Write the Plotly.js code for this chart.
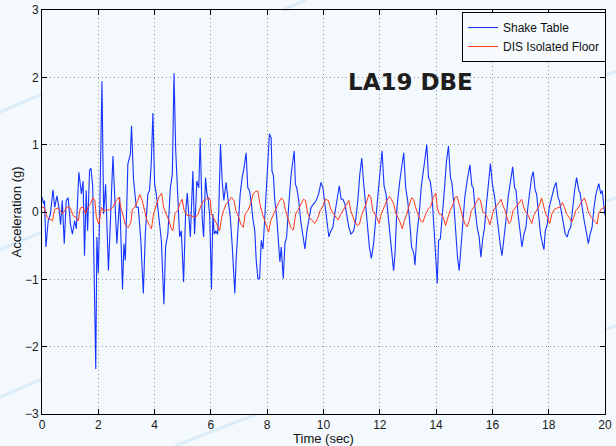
<!DOCTYPE html>
<html>
<head>
<meta charset="utf-8">
<script src="https://cdn.plot.ly/plotly-3.0.1.min.js"></script>
<style>html,body{margin:0;padding:0;background:#f4f9fd;}#chart{width:616px;height:446px;}</style>
</head>
<body>
<div id="chart"></div>
<script>
// Shake Table acceleration: [time (s), acceleration (g)]
const shakeTable = [[0,0.22],[0.06,0.12],[0.09,0.17],[0.14,-0.52],[0.22,-0.13],[0.30,-0.03],[0.39,0.33],[0.45,0.07],[0.53,0.24],[0.60,0.07],[0.66,-0.19],[0.72,0.17],[0.79,-0.47],[0.86,0.17],[0.93,0.21],[1.01,-0.18],[1.08,-0.33],[1.16,-0.13],[1.22,-0.25],[1.31,0.59],[1.40,0.27],[1.46,0.46],[1.51,-0.65],[1.57,0.32],[1.62,-0.28],[1.69,0.62],[1.74,0.65],[1.80,0.39],[1.91,-2.33],[1.95,-0.37],[2.00,-0.91],[2.05,-0.03],[2.13,1.94],[2.19,-0.03],[2.26,0.41],[2.36,-0.87],[2.44,-0.03],[2.52,0.83],[2.60,0.07],[2.66,-0.47],[2.76,0.22],[2.86,-1.15],[2.91,-0.47],[2.96,-0.72],[3.05,0.71],[3.14,0.86],[3.18,1.28],[3.25,0.49],[3.35,0.07],[3.42,0.07],[3.51,-0.42],[3.60,-1.21],[3.67,-0.33],[3.76,0.27],[3.82,0.32],[3.88,0.71],[3.94,1.47],[4.00,0.41],[4.06,0.27],[4.13,-0.03],[4.24,-0.42],[4.33,-1.37],[4.39,-0.52],[4.47,-0.33],[4.56,0.36],[4.63,0.56],[4.69,2.06],[4.75,0.91],[4.82,0.36],[4.89,-0.37],[4.95,-0.28],[5.03,-1.04],[5.10,-0.03],[5.16,0.28],[5.27,-0.37],[5.36,0.61],[5.42,-0.33],[5.50,0.46],[5.57,0.36],[5.62,1.10],[5.69,-0.08],[5.74,-0.37],[5.81,0.51],[5.86,0.27],[5.91,0.17],[5.96,-0.08],[6.02,-1.15],[6.07,-0.03],[6.12,-0.33],[6.17,-0.28],[6.24,-0.33],[6.28,0.02],[6.34,1.01],[6.40,0.46],[6.46,0.17],[6.54,0.44],[6.60,0.22],[6.69,-0.08],[6.76,-0.52],[6.85,-1.21],[6.90,-0.67],[6.96,-0.23],[7.04,0.27],[7.11,0.51],[7.18,0.66],[7.25,0.88],[7.31,0.36],[7.37,0.32],[7.44,0.12],[7.49,-0.10],[7.56,-0.28],[7.61,-0.72],[7.67,-0.99],[7.73,-0.99],[7.79,-0.42],[7.85,-0.55],[7.92,-0.03],[8.00,0.51],[8.08,1.16],[8.14,1.10],[8.17,0.61],[8.22,0.54],[8.27,0.17],[8.34,-0.08],[8.41,-0.52],[8.45,-0.74],[8.50,-0.52],[8.57,-0.99],[8.63,-0.47],[8.69,-0.37],[8.76,0.07],[8.85,0.56],[8.96,0.91],[9.00,0.41],[9.05,0.36],[9.12,0.17],[9.19,-0.13],[9.27,-0.33],[9.34,-0.55],[9.41,-0.28],[9.48,-0.13],[9.56,0.07],[9.65,0.12],[9.74,0.17],[9.83,0.27],[9.91,0.44],[9.98,0.36],[10.05,0.12],[10.12,-0.13],[10.19,-0.37],[10.26,-0.28],[10.33,-0.23],[10.40,-0.03],[10.48,0.17],[10.56,0.39],[10.63,0.19],[10.69,0.19],[10.76,0.12],[10.83,-0.03],[10.90,-0.23],[10.98,-0.33],[11.07,-0.28],[11.14,-0.13],[11.22,0.17],[11.29,0.56],[11.36,0.80],[11.42,0.46],[11.49,0.17],[11.56,-0.23],[11.63,-0.52],[11.70,-0.69],[11.78,-0.47],[11.85,-0.13],[11.92,0.17],[11.99,0.46],[12.08,0.91],[12.15,0.39],[12.22,0.27],[12.29,-0.03],[12.36,-0.33],[12.44,-0.67],[12.49,-0.87],[12.54,-0.62],[12.61,0.07],[12.71,0.46],[12.78,0.66],[12.85,0.88],[12.92,0.36],[12.99,0.17],[13.06,-0.13],[13.13,-0.52],[13.21,-0.62],[13.25,-0.79],[13.32,-0.33],[13.40,-0.03],[13.47,0.36],[13.54,0.56],[13.61,0.81],[13.67,1.00],[13.73,0.51],[13.79,0.46],[13.85,0.27],[13.92,-0.13],[13.98,-0.62],[14.04,-1.06],[14.09,-0.42],[14.15,-0.40],[14.23,-0.03],[14.30,0.36],[14.37,0.76],[14.44,0.98],[14.51,0.51],[14.56,0.44],[14.63,0.12],[14.70,-0.33],[14.76,-0.67],[14.82,-0.87],[14.88,-0.52],[14.95,-0.13],[15.02,0.22],[15.10,0.46],[15.20,0.70],[15.27,0.39],[15.32,0.36],[15.38,0.07],[15.46,-0.23],[15.53,-0.37],[15.59,-0.67],[15.65,-0.42],[15.72,-0.23],[15.79,0.12],[15.86,0.46],[15.93,0.72],[16.00,0.41],[16.08,0.22],[16.15,-0.03],[16.22,-0.33],[16.29,-0.52],[16.34,-0.65],[16.41,-0.33],[16.48,-0.13],[16.56,0.22],[16.65,0.44],[16.72,0.67],[16.79,0.36],[16.84,0.32],[16.91,-0.03],[16.98,-0.28],[17.05,-0.52],[17.12,-0.33],[17.19,-0.23],[17.26,0.07],[17.33,0.36],[17.39,0.51],[17.45,0.60],[17.52,0.32],[17.57,0.27],[17.64,-0.08],[17.71,-0.33],[17.78,-0.47],[17.83,-0.56],[17.88,-0.28],[17.95,-0.18],[18.02,0.07],[18.10,0.22],[18.19,0.36],[18.26,0.44],[18.33,0.22],[18.38,0.17],[18.45,0.02],[18.52,-0.13],[18.59,-0.33],[18.66,-0.37],[18.71,-0.28],[18.78,-0.23],[18.85,0.07],[18.92,0.32],[18.99,0.51],[19.07,0.32],[19.11,0.29],[19.18,0.07],[19.26,-0.13],[19.35,-0.33],[19.41,-0.47],[19.47,-0.33],[19.54,-0.23],[19.61,0.07],[19.68,0.27],[19.78,0.42],[19.85,0.27],[19.90,0.32],[19.97,0.07],[20.00,-0.05]];

// DIS Isolated Floor acceleration: [time (s), acceleration (g)]
const isolatedFloor = [[0,0.07],[0.09,0.06],[0.18,-0.08],[0.27,-0.10],[0.37,-0.13],[0.45,0.04],[0.57,0.06],[0.65,0.02],[0.72,-0.03],[0.82,0.03],[0.91,0.08],[1.01,0.06],[1.10,-0.05],[1.20,-0.08],[1.29,-0.13],[1.36,0.06],[1.46,0.07],[1.55,-0.03],[1.63,0.07],[1.72,0.12],[1.81,0.21],[1.88,0.17],[1.93,-0.08],[2.02,-0.18],[2.11,0.07],[2.19,0.01],[2.28,0.03],[2.40,0.03],[2.52,0.07],[2.64,0.17],[2.73,0.22],[2.80,0.07],[2.88,-0.08],[2.97,-0.20],[3.07,-0.23],[3.16,-0.15],[3.21,0.04],[3.30,0.07],[3.40,0.17],[3.47,0.26],[3.56,0.17],[3.66,-0.03],[3.73,-0.13],[3.82,-0.20],[3.89,-0.25],[3.96,-0.03],[4.06,0.12],[4.15,0.22],[4.25,0.28],[4.32,0.07],[4.41,-0.03],[4.51,-0.13],[4.58,-0.23],[4.65,-0.28],[4.72,-0.03],[4.82,0.02],[4.91,0.14],[4.98,0.19],[5.05,0.02],[5.15,-0.05],[5.24,-0.05],[5.36,-0.07],[5.45,-0.08],[5.55,-0.03],[5.64,0.09],[5.74,0.17],[5.80,0.18],[5.91,0.22],[5.98,0.17],[6.02,-0.03],[6.12,-0.10],[6.21,-0.18],[6.31,-0.28],[6.38,-0.08],[6.45,0.02],[6.54,0.12],[6.66,0.17],[6.73,0.22],[6.82,0.17],[6.89,0.02],[6.99,-0.08],[7.06,-0.18],[7.15,-0.23],[7.22,-0.03],[7.31,0.02],[7.41,0.12],[7.50,0.27],[7.60,0.31],[7.67,0.31],[7.74,0.12],[7.83,-0.03],[7.91,-0.13],[7.98,-0.23],[8.05,-0.30],[8.12,-0.13],[8.22,-0.03],[8.32,0.07],[8.41,0.14],[8.51,0.21],[8.58,0.17],[8.65,0.02],[8.75,-0.13],[8.84,-0.23],[8.93,-0.27],[9.01,-0.03],[9.11,0.04],[9.20,0.12],[9.29,0.19],[9.36,0.17],[9.43,0.00],[9.50,-0.08],[9.60,-0.13],[9.69,-0.17],[9.79,-0.10],[9.88,0.02],[9.98,0.09],[10.07,0.19],[10.17,0.17],[10.26,0.04],[10.36,-0.03],[10.45,-0.08],[10.52,-0.12],[10.62,-0.03],[10.71,0.04],[10.80,0.09],[10.90,0.17],[10.97,0.02],[11.04,-0.08],[11.11,-0.15],[11.21,-0.20],[11.28,-0.18],[11.35,-0.05],[11.42,0.02],[11.51,0.12],[11.61,0.26],[11.68,0.22],[11.75,0.02],[11.82,-0.03],[11.89,-0.08],[11.98,-0.17],[12.05,-0.03],[12.15,0.07],[12.25,0.17],[12.34,0.23],[12.41,0.19],[12.49,0.12],[12.58,-0.03],[12.70,-0.13],[12.80,-0.25],[12.87,-0.13],[12.96,-0.03],[13.06,0.12],[13.13,0.21],[13.20,0.19],[13.27,0.07],[13.37,-0.05],[13.46,-0.13],[13.53,-0.15],[13.63,-0.03],[13.72,0.04],[13.82,0.09],[13.90,0.22],[13.99,0.28],[14.04,0.07],[14.11,-0.03],[14.18,-0.03],[14.25,-0.08],[14.34,-0.20],[14.42,-0.08],[14.49,0.02],[14.58,0.09],[14.68,0.22],[14.75,0.23],[14.82,0.12],[14.89,-0.03],[14.96,-0.10],[15.03,-0.18],[15.10,-0.22],[15.18,-0.13],[15.25,0.02],[15.34,0.07],[15.42,0.14],[15.51,0.21],[15.58,0.17],[15.65,0.01],[15.75,-0.03],[15.84,-0.10],[15.91,-0.19],[15.98,-0.05],[16.05,0.04],[16.15,0.09],[16.24,0.14],[16.31,0.19],[16.38,0.09],[16.45,0.02],[16.52,-0.08],[16.59,-0.17],[16.66,-0.13],[16.73,0.02],[16.83,0.07],[16.92,0.12],[17.04,0.19],[17.11,0.07],[17.18,0.00],[17.25,-0.03],[17.33,-0.10],[17.40,-0.17],[17.47,-0.05],[17.56,0.02],[17.66,0.09],[17.75,0.21],[17.82,0.07],[17.89,-0.03],[17.96,-0.08],[18.04,-0.17],[18.11,-0.03],[18.20,0.04],[18.30,0.06],[18.39,0.07],[18.49,0.14],[18.56,0.07],[18.63,-0.03],[18.73,-0.08],[18.82,-0.15],[18.89,-0.08],[18.96,0.02],[19.06,0.07],[19.15,0.14],[19.27,0.21],[19.34,0.12],[19.41,0.00],[19.51,-0.08],[19.60,-0.13],[19.72,-0.18],[19.77,-0.03],[19.86,0.04],[20.00,0.07]];

const seriesNames = ['Shake Table', 'DIS Isolated Floor'];
const xTicks = [0, 2, 4, 6, 8, 10, 12, 14, 16, 18, 20];
const yTicks = [-3, -2, -1, 0, 1, 2, 3];
const chartLabel = 'LA19 DBE';

const BG = '#f4f9fd';
const FONT = 'Liberation Sans, Arial, Helvetica, sans-serif';

const traces = [
  {
    x: shakeTable.map(p => p[0]), y: shakeTable.map(p => p[1]),
    type: 'scatter', mode: 'lines', name: seriesNames[0],
    line: {color: '#1434ff', width: 1.1}
  },
  {
    x: isolatedFloor.map(p => p[0]), y: isolatedFloor.map(p => p[1]),
    type: 'scatter', mode: 'lines', name: seriesNames[1],
    line: {color: '#ff3a1a', width: 1}
  }
];

function deco(x0, y0, x1, y1) {
  return {type: 'line', xref: 'paper', yref: 'paper', x0, y0, x1, y1,
    line: {color: '#dbedf9', width: 3}, layer: 'below'};
}

const axisCommon = {
  showline: true, linecolor: '#000', linewidth: 1, mirror: 'ticks',
  ticks: 'inside', ticklen: 5, tickcolor: '#000', tickwidth: 1,
  showgrid: true, gridcolor: '#9a9a9a', gridwidth: 1, griddash: '1px,3px',
  zeroline: false, tickfont: {family: FONT, size: 12, color: '#1a1a1a'}
};

const layout = {
  width: 616, height: 446,
  margin: {l: 42, r: 11, t: 10, b: 32},
  paper_bgcolor: BG, plot_bgcolor: BG,
  showlegend: true,
  legend: {x: 0.746, y: 0.995, xanchor: 'left', yanchor: 'top',
    bgcolor: '#f7fbfe', bordercolor: '#000', borderwidth: 1, itemwidth: 30,
    font: {family: FONT, size: 12, color: '#111'}, tracegroupgap: 0},
  xaxis: Object.assign({}, axisCommon, {
    range: [0, 20], tickvals: xTicks,
    title: {text: 'Time (sec)', font: {family: FONT, size: 13, color: '#111'}, standoff: 2}
  }),
  yaxis: Object.assign({}, axisCommon, {
    range: [-3, 3], tickvals: yTicks,
    title: {text: 'Acceleration (g)', font: {family: FONT, size: 13, color: '#111'}, standoff: 0}
  }),
  annotations: [{
    text: '<b>' + chartLabel + '</b>', xref: 'paper', yref: 'paper',
    x: 0.654, y: 0.822, xanchor: 'center', yanchor: 'middle', showarrow: false,
    font: {family: 'DejaVu Sans, sans-serif', size: 23, color: '#1e1e1e'}
  }],
  shapes: [
    deco(-0.0746, 0.7475, 0, 0.792),
    deco(-0.0746, 0.406, 0, 0.4505),
    deco(-0.0746, 0.042, 0, 0.0866),
    deco(0.236, -0.0792, 0.382, 0),
    deco(0.428, 1.0, 0.469, 1.0248),
    deco(1.0, 0.839, 1.0195, 0.847),
    deco(1.0, 0.527, 1.0195, 0.535),
    deco(1.0, 0.210, 1.0195, 0.218)
  ]
};

Plotly.newPlot('chart', traces, layout, {displayModeBar: false, staticPlot: true});
</script>
</body>
</html>
